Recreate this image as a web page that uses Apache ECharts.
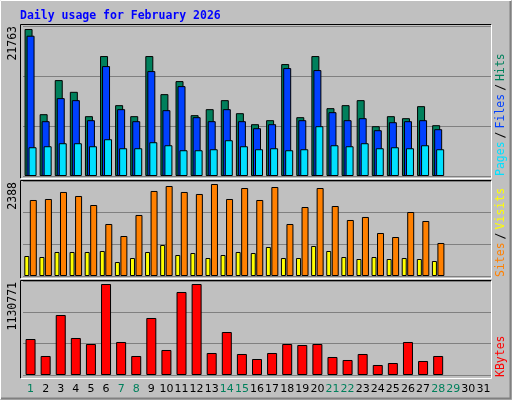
<!DOCTYPE html>
<html><head><meta charset="utf-8">
<script src="https://cdn.jsdelivr.net/npm/echarts@6/dist/echarts.min.js"></script>
<style>html,body{margin:0;padding:0;background:#c0c0c0}#c{width:512px;height:400px}</style>
</head><body><div id="c"></div>
<script>
const days = Array.from({length:31},(_, i)=>String(i+1));
const weekendDays = ['1','7','8','14','15','21','22','28','29'];
const hits  = [21763,9153,14197,12461,8857,17757,10488,8857,17757,12120,14049,9005,9895,11230,9301,7670,8263,16571,8708,17757,10043,10488,11230,7373,8857,8560,10340,7521];
const files = [20769,8115,11527,11230,8263,16274,9895,8115,15532,9746,13307,8708,8115,9895,8115,7076,7670,15977,8263,15681,9450,8263,8560,6780,7966,8115,8263,6928];
const pages = [4258,4406,4851,4851,4406,5444,4109,4109,4999,4554,3813,3813,3961,5296,4406,3961,4109,3813,3961,7373,4554,4406,4851,4109,4258,4109,4554,3961];
const visits= [1973,1999,2181,2077,1843,1350,1038,1584,2207,2336,2181,2129,2388,1999,2284,1973,2310,1350,1791,2284,1817,1454,1532,1116,1012,1661,1428,857];
const sites = [519,493,623,623,623,649,363,467,623,805,545,597,467,545,623,597,753,467,467,779,649,493,441,493,441,467,441,389];
const kbytes= [447300,236100,745600,459800,385200,1130771,410100,236100,708300,310700,1031400,1130771,273400,534300,261000,198800,273400,385200,372800,385200,223700,186400,261000,124300,149100,410100,174000,236100];
const yMaxLabels = ['21763','2388','1130771'];

const chart = echarts.init(document.getElementById('c'), null, {renderer:'canvas'});
const L=23, W=468;
const grids=[{left:L,top:26,width:W,height:150},{left:L,top:181,width:W,height:95},{left:L,top:281,width:W,height:94}];
const ymax=[22206,2466,1168050], yint=[7402,822,389350];
const bs={borderColor:'#000',borderWidth:1};
function xa(i){return {type:'category',gridIndex:i,data:days,axisLine:{show:false},axisTick:{show:false},
  axisLabel:{show:i===2,interval:0,margin:9,fontFamily:'DejaVu Sans',fontSize:11,
  color:(v)=>weekendDays.includes(v)?'#00805c':'#000'}};}
function ya(i){return {type:'value',gridIndex:i,min:0,max:ymax[i],interval:yint[i],axisLabel:{show:false},axisLine:{show:false},axisTick:{show:false},splitLine:{lineStyle:{color:'#808080',width:1}}};}
function panel(t,b){return [
 {type:'polyline',shape:{points:[[20.5,b],[20.5,t],[491.5,t]]},style:{stroke:'#000',lineWidth:1,fill:null},z:10},
 {type:'polyline',shape:{points:[[491.5,t],[491.5,b],[20.5,b]]},style:{stroke:'#fff',lineWidth:1,fill:null},z:10}];}
function vtext(x,y,text,align,extra){return Object.assign({type:'text',x:x,y:y,rotation:Math.PI/2,
  style:Object.assign({text:text,align:align,verticalAlign:'middle',fontFamily:'DejaVu Sans Mono',fontSize:11.5,fill:'#000'},extra||{}),z:11});}
chart.setOption({
 animation:false,backgroundColor:'#c0c0c0',
 grid:grids,xAxis:[xa(0),xa(1),xa(2)],yAxis:[ya(0),ya(1),ya(2)],
 series:[
  {type:'bar',xAxisIndex:0,yAxisIndex:0,data:hits,barWidth:8,barGap:'-75%',itemStyle:Object.assign({color:'#00805c'},bs)},
  {type:'bar',xAxisIndex:0,yAxisIndex:0,data:files,barWidth:8,barGap:'-75%',itemStyle:Object.assign({color:'#0040ff'},bs)},
  {type:'bar',xAxisIndex:0,yAxisIndex:0,data:pages,barWidth:8,barGap:'-75%',itemStyle:Object.assign({color:'#00e0ff'},bs)},
  {type:'bar',xAxisIndex:1,yAxisIndex:1,data:sites,barWidth:5,barGap:'10%',itemStyle:Object.assign({color:'#ffff00'},bs)},
  {type:'bar',xAxisIndex:1,yAxisIndex:1,data:visits,barWidth:7,barGap:'10%',itemStyle:Object.assign({color:'#ff8000'},bs)},
  {type:'bar',xAxisIndex:2,yAxisIndex:2,data:kbytes,barWidth:10,itemStyle:Object.assign({color:'#ff0000'},bs)}
 ],
 graphic:[
  {type:'polyline',shape:{points:[[0.5,399],[0.5,0.5],[511,0.5]]},style:{stroke:'#fff',lineWidth:1,fill:null}},
  {type:'polyline',shape:{points:[[510.5,1],[510.5,398.5],[1,398.5]]},style:{stroke:'#808080',lineWidth:2,fill:null}},
  {type:'text',x:20,y:16,style:{text:'Daily usage for February 2026',fontFamily:'DejaVu Sans Mono',fontWeight:'bold',fontSize:11.5,fill:'#0000ff',verticalAlign:'middle'}},
  ...panel(24.5,178.5),...panel(180.5,278.5),...panel(280.5,378.5),
  vtext(13,26,yMaxLabels[0],'right'),
  vtext(13,182,yMaxLabels[1],'right'),
  vtext(13,282,yMaxLabels[2],'right'),
  {type:'text',x:501,y:176,rotation:Math.PI/2,z:11,style:{text:'{p|Pages}{s|/}{f|Files}{s|/}{h|Hits}',align:'left',verticalAlign:'middle',fontFamily:'DejaVu Sans Mono',fontSize:11.5,
    rich:{p:{fill:'#00e0ff'},f:{fill:'#0040ff'},h:{fill:'#00805c'},s:{fill:'#000',padding:[0,3]}}}},
  {type:'text',x:501,y:277,rotation:Math.PI/2,z:11,style:{text:'{a|Sites}{s|/}{b|Visits}',align:'left',verticalAlign:'middle',fontFamily:'DejaVu Sans Mono',fontSize:11.5,
    rich:{a:{fill:'#ff8000'},b:{fill:'#ffff00'},s:{fill:'#000',padding:[0,3]}}}},
  {type:'text',x:501,y:377,rotation:Math.PI/2,z:11,style:{text:'KBytes',align:'left',verticalAlign:'middle',fontFamily:'DejaVu Sans Mono',fontSize:11.5,fill:'#ff0000'}}
 ]
});
</script></body></html>
